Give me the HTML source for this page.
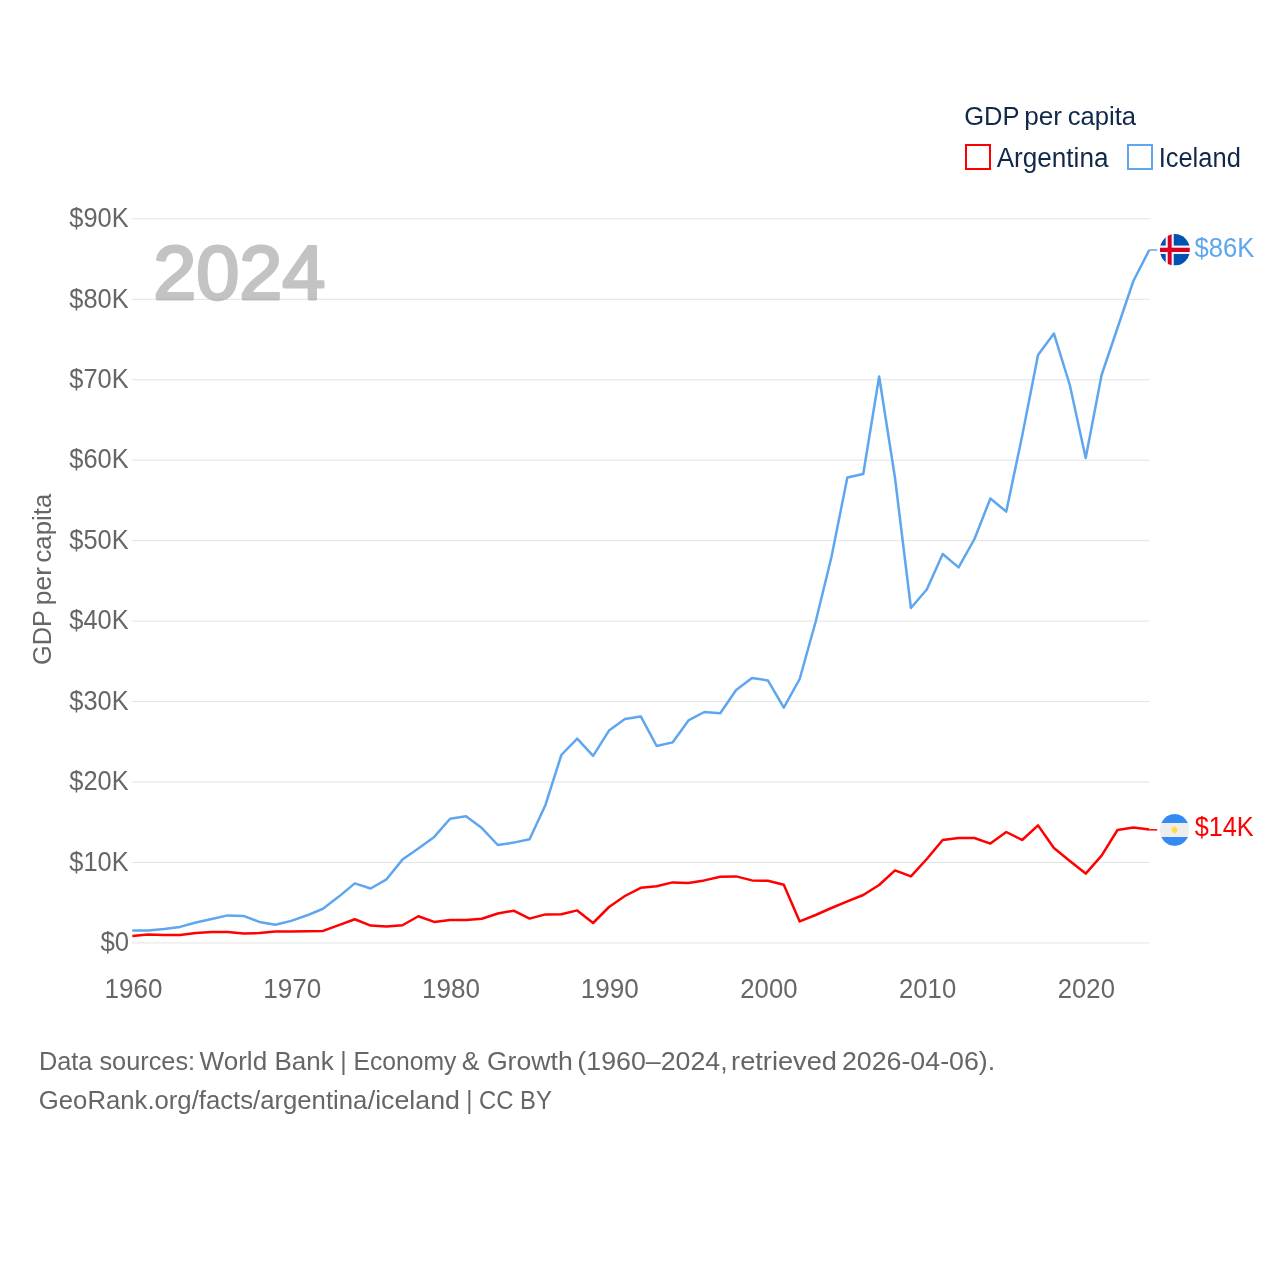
<!DOCTYPE html>
<html lang="en"><head><meta charset="utf-8"><title>GDP per capita: Argentina vs Iceland</title>
<style>html,body{margin:0;padding:0;background:#fff}svg{display:block}text{font-family:"Liberation Sans",sans-serif}</style></head><body>
<svg width="1280" height="1280" viewBox="0 0 1280 1280">
<rect width="1280" height="1280" fill="#fff"/>
<g stroke="#e3e3e3" stroke-width="1">
<line x1="132" x2="1149.5" y1="942.95" y2="942.95"/>
<line x1="132" x2="1149.5" y1="862.49" y2="862.49"/>
<line x1="132" x2="1149.5" y1="782.03" y2="782.03"/>
<line x1="132" x2="1149.5" y1="701.57" y2="701.57"/>
<line x1="132" x2="1149.5" y1="621.11" y2="621.11"/>
<line x1="132" x2="1149.5" y1="540.65" y2="540.65"/>
<line x1="132" x2="1149.5" y1="460.19" y2="460.19"/>
<line x1="132" x2="1149.5" y1="379.73" y2="379.73"/>
<line x1="132" x2="1149.5" y1="299.27" y2="299.27"/>
<line x1="132" x2="1149.5" y1="218.81" y2="218.81"/>
</g>
<text x="100.44" y="951.20" font-size="27.33" fill="#666666" textLength="28.59" lengthAdjust="spacingAndGlyphs">$0</text>
<text x="69.25" y="870.74" font-size="27.33" fill="#666666" textLength="59.33" lengthAdjust="spacingAndGlyphs">$10K</text>
<text x="69.25" y="790.28" font-size="27.33" fill="#666666" textLength="59.33" lengthAdjust="spacingAndGlyphs">$20K</text>
<text x="69.25" y="709.82" font-size="27.33" fill="#666666" textLength="59.33" lengthAdjust="spacingAndGlyphs">$30K</text>
<text x="69.25" y="629.36" font-size="27.33" fill="#666666" textLength="59.33" lengthAdjust="spacingAndGlyphs">$40K</text>
<text x="69.25" y="548.90" font-size="27.33" fill="#666666" textLength="59.33" lengthAdjust="spacingAndGlyphs">$50K</text>
<text x="69.25" y="468.44" font-size="27.33" fill="#666666" textLength="59.33" lengthAdjust="spacingAndGlyphs">$60K</text>
<text x="69.25" y="387.98" font-size="27.33" fill="#666666" textLength="59.33" lengthAdjust="spacingAndGlyphs">$70K</text>
<text x="69.25" y="307.52" font-size="27.33" fill="#666666" textLength="59.33" lengthAdjust="spacingAndGlyphs">$80K</text>
<text x="69.25" y="227.06" font-size="27.33" fill="#666666" textLength="59.33" lengthAdjust="spacingAndGlyphs">$90K</text>
<text x="104.59" y="997.70" font-size="27.18" fill="#666666" textLength="57.91" lengthAdjust="spacingAndGlyphs">1960</text>
<text x="263.32" y="997.70" font-size="27.18" fill="#666666" textLength="57.96" lengthAdjust="spacingAndGlyphs">1970</text>
<text x="422.07" y="997.70" font-size="27.18" fill="#666666" textLength="57.94" lengthAdjust="spacingAndGlyphs">1980</text>
<text x="580.78" y="997.70" font-size="27.18" fill="#666666" textLength="57.97" lengthAdjust="spacingAndGlyphs">1990</text>
<text x="740.35" y="997.70" font-size="27.18" fill="#666666" textLength="57.08" lengthAdjust="spacingAndGlyphs">2000</text>
<text x="899.07" y="997.70" font-size="27.18" fill="#666666" textLength="57.10" lengthAdjust="spacingAndGlyphs">2010</text>
<text x="1057.81" y="997.70" font-size="27.18" fill="#666666" textLength="57.13" lengthAdjust="spacingAndGlyphs">2020</text>
<text x="51.00" y="664.94" font-size="26.60" fill="#666666" textLength="54.95" lengthAdjust="spacingAndGlyphs" transform="rotate(-90 51.00 664.94)">GDP</text>
<text x="51.00" y="605.16" font-size="26.60" fill="#666666" textLength="38.16" lengthAdjust="spacingAndGlyphs" transform="rotate(-90 51.00 605.16)">per</text>
<text x="51.00" y="562.52" font-size="26.60" fill="#666666" textLength="68.78" lengthAdjust="spacingAndGlyphs" transform="rotate(-90 51.00 562.52)">capita</text>
<text x="153.20" y="299.30" font-size="75.36" fill="#888888" textLength="172.17" lengthAdjust="spacingAndGlyphs" stroke="#888888" stroke-width="2.8" stroke-linejoin="round" opacity="0.5">2024</text>
<text x="964.21" y="124.50" font-size="26.45" fill="#11284a" textLength="55.41" lengthAdjust="spacingAndGlyphs">GDP</text>
<text x="1024.15" y="124.50" font-size="26.45" fill="#11284a" textLength="37.77" lengthAdjust="spacingAndGlyphs">per</text>
<text x="1067.68" y="124.50" font-size="26.45" fill="#11284a" textLength="68.40" lengthAdjust="spacingAndGlyphs">capita</text>
<text x="996.65" y="166.80" font-size="27.18" fill="#11284a" textLength="111.80" lengthAdjust="spacingAndGlyphs">Argentina</text>
<text x="1158.64" y="166.80" font-size="27.18" fill="#11284a" textLength="82.19" lengthAdjust="spacingAndGlyphs">Iceland</text>
<text x="1194.44" y="256.70" font-size="27.33" fill="#5ea6ed" textLength="59.79" lengthAdjust="spacingAndGlyphs">$86K</text>
<text x="1194.70" y="836.20" font-size="27.33" fill="#ff0000" textLength="59.00" lengthAdjust="spacingAndGlyphs">$14K</text>
<text x="38.95" y="1069.85" font-size="26.70" fill="#666666" textLength="156.13" lengthAdjust="spacingAndGlyphs">Data sources:</text>
<text x="199.61" y="1069.85" font-size="26.70" fill="#666666" textLength="134.13" lengthAdjust="spacingAndGlyphs">World Bank</text>
<text x="340.31" y="1069.85" font-size="26.70" fill="#666666" textLength="116.14" lengthAdjust="spacingAndGlyphs">| Economy</text>
<text x="461.75" y="1069.85" font-size="26.70" fill="#666666" textLength="110.98" lengthAdjust="spacingAndGlyphs">&amp; Growth</text>
<text x="577.36" y="1069.85" font-size="26.70" fill="#666666" textLength="150.27" lengthAdjust="spacingAndGlyphs">(1960–2024,</text>
<text x="731.08" y="1069.85" font-size="26.70" fill="#666666" textLength="105.94" lengthAdjust="spacingAndGlyphs">retrieved</text>
<text x="841.91" y="1069.85" font-size="26.70" fill="#666666" textLength="153.29" lengthAdjust="spacingAndGlyphs">2026-04-06).</text>
<text x="38.83" y="1108.75" font-size="26.70" fill="#666666" textLength="328.52" lengthAdjust="spacingAndGlyphs">GeoRank.org/facts/argentina</text>
<text x="367.69" y="1108.75" font-size="26.70" fill="#666666" textLength="92.30" lengthAdjust="spacingAndGlyphs">/iceland</text>
<text x="466.21" y="1108.75" font-size="26.70" fill="#666666" textLength="85.75" lengthAdjust="spacingAndGlyphs">| CC BY</text>
<path d="M132.30 930.50 L148.19 930.50 L164.08 929.00 L179.97 926.90 L195.86 922.50 L211.75 919.00 L227.64 915.40 L243.53 915.90 L259.42 921.90 L275.31 924.75 L291.20 920.90 L307.09 915.30 L322.98 908.75 L338.87 896.60 L354.76 883.40 L370.65 888.50 L386.54 879.30 L402.43 859.60 L418.32 848.40 L434.21 836.90 L450.10 818.75 L465.99 816.30 L481.88 828.10 L497.77 845.00 L513.66 842.60 L529.55 839.20 L545.44 805.00 L561.33 755.00 L577.22 738.60 L593.11 755.80 L609.00 730.60 L624.89 719.00 L640.78 716.40 L656.67 746.00 L672.56 742.40 L688.45 720.40 L704.34 712.00 L720.23 713.20 L736.12 690.00 L752.01 678.00 L767.90 680.40 L783.79 707.60 L799.68 679.00 L815.57 622.00 L831.46 557.00 L847.35 477.50 L863.24 474.00 L879.13 376.50 L895.02 478.00 L910.91 608.00 L926.80 589.50 L942.69 554.00 L958.58 567.40 L974.47 539.00 L990.36 498.50 L1006.25 511.60 L1022.14 436.00 L1038.03 355.00 L1053.92 333.60 L1069.81 385.00 L1085.70 458.00 L1101.59 375.00 L1117.48 328.00 L1133.37 281.00 L1149.26 250.00" fill="none" stroke="#5ea6ed" stroke-width="2.5" stroke-linejoin="round"/>
<path d="M132.30 935.90 L148.19 934.50 L164.08 935.10 L179.97 935.10 L195.86 933.10 L211.75 931.90 L227.64 931.90 L243.53 933.50 L259.42 933.10 L275.31 931.40 L291.20 931.60 L307.09 931.25 L322.98 930.90 L338.87 925.10 L354.76 919.25 L370.65 925.60 L386.54 926.60 L402.43 925.25 L418.32 916.25 L434.21 921.90 L450.10 920.00 L465.99 920.00 L481.88 918.70 L497.77 913.50 L513.66 910.70 L529.55 918.60 L545.44 914.40 L561.33 914.20 L577.22 910.40 L593.11 923.00 L609.00 907.00 L624.89 896.00 L640.78 887.80 L656.67 886.20 L672.56 882.40 L688.45 883.00 L704.34 880.40 L720.23 876.80 L736.12 876.40 L752.01 880.40 L767.90 880.80 L783.79 884.80 L799.68 921.40 L815.57 915.00 L831.46 908.00 L847.35 901.40 L863.24 895.00 L879.13 885.00 L895.02 870.40 L910.91 876.40 L926.80 859.00 L942.69 840.00 L958.58 838.00 L974.47 838.00 L990.36 843.60 L1006.25 832.00 L1022.14 840.00 L1038.03 825.40 L1053.92 848.00 L1069.81 861.00 L1085.70 873.60 L1101.59 855.60 L1117.48 830.00 L1133.37 827.40 L1149.26 829.60" fill="none" stroke="#ff0000" stroke-width="2.5" stroke-linejoin="round"/>
<line x1="1149.2" x2="1157.2" y1="250.00" y2="250.00" stroke="#5ea6ed" stroke-width="1.5"/>
<line x1="1149.2" x2="1157.2" y1="829.85" y2="829.85" stroke="#ff0000" stroke-width="1.5"/>
<rect x="966" y="145" width="24" height="24" fill="#fff" stroke="#ff0000" stroke-width="2"/>
<rect x="1128" y="145" width="24" height="24" fill="#fff" stroke="#5ea6ed" stroke-width="2"/>
<g transform="translate(1159.90 234.10) scale(0.05859 0.06152)"><clipPath id="cis"><circle cx="256" cy="256" r="256"/></clipPath><g clip-path="url(#cis)"><path fill="#0052b4" d="M0 0h102v191H0zM231 0h281v191H231zM0 321h102v191H0zM231 321h281v191H231z"/><path fill="#f4f4f4" d="M100.2 0h132.6v189.300H512v133.500H232.800V512H100.200V322.800H0V189.300h100.200z"/><path fill="#d80027" d="M133.600 0h66.800v222.600H512v66.800H200.400V512h-66.800V289.400H0v-66.800h133.600z"/></g></g>
<g transform="translate(1159.85 814.10) scale(0.05762 0.06211)"><clipPath id="car"><circle cx="256" cy="256" r="256"/></clipPath><g clip-path="url(#car)"><rect width="512" height="146" fill="#338af3"/><rect y="366" width="512" height="146" fill="#338af3"/><rect y="144.700" width="512" height="222.600" fill="#eee"/><path fill="#ffda44" transform="translate(256 256) scale(0.86) translate(-256 -256)" d="M332.400 256l-31.200 14.700 16.700 30.300-34-6.500-4.300 34.300-23.600-25.200-23.700 25.200-4.300-34.300-34 6.500 16.600-30.300-31.200-14.700 31.200-14.700-16.600-30.300 34 6.500 4.300-34.300 23.700 25.300 23.600-25.300 4.300 34.300 34-6.500-16.700 30.300z"/></g></g>
</svg></body></html>
